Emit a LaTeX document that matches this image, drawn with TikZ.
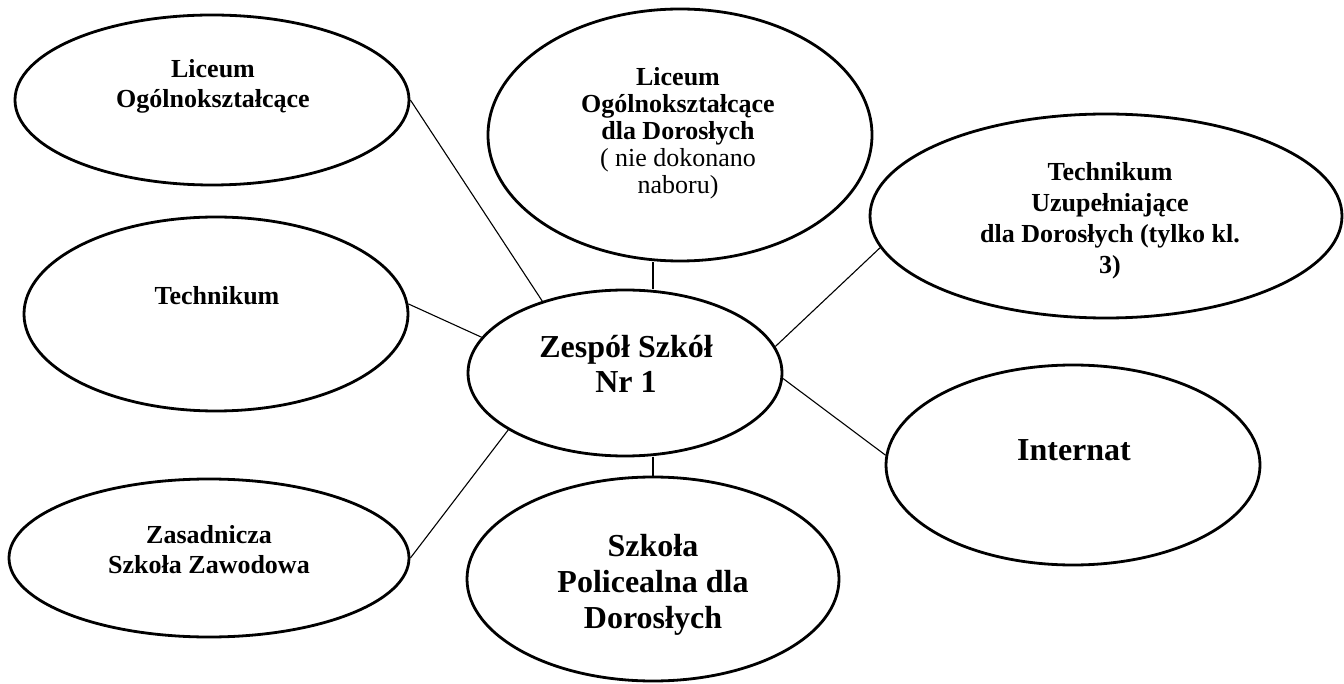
\documentclass[tikz,border=0pt]{standalone}
\usepackage{fontspec}
\setmainfont{Liberation Serif}
\usetikzlibrary{shapes.geometric,positioning}

\begin{document}
\begin{tikzpicture}[x=1pt,y=-1pt,
  szkola/.style 2 args={ellipse,draw,line width=2.8pt,minimum width=#1,minimum height=#2,inner sep=0pt},
  opis/.style={align=center,font=\fontsize{26}{#1}\selectfont\bfseries},
  opis/.default=30,
  duzy/.style={align=center,font=\fontsize{32}{#1}\selectfont\bfseries},
  duzy/.default=35,
  polacz/.style={line width=1.1pt}]
  \useasboundingbox (0,0) rectangle (1344,684);
  % ellipses
  \node[szkola={394pt}{170pt}] (LO) at (212,100) {};
  \node[szkola={384pt}{252pt}] (LOD) at (680,135) {};
  \node[szkola={472pt}{204pt}] (TU) at (1106,216) {};
  \node[szkola={384pt}{194pt}] (T) at (216,314) {};
  \node[szkola={314pt}{166pt}] (ZS) at (625,373) {};
  \node[szkola={374pt}{200pt}] (I) at (1073,465) {};
  \node[szkola={400pt}{158pt}] (ZSZ) at (209,558) {};
  \node[szkola={372pt}{204pt}] (SP) at (653,579) {};
  % texts
  \node[opis] (LOt) at (213,86) {Liceum\\Ogólnokształcące};
  \node[opis=27] (LODt) at (678,133) {Liceum\\Ogólnokształcące\\dla Dorosłych\\{\mdseries ( nie dokonano}\\{\mdseries naboru)}};
  \node[opis=31] (TUt) at (1110,221) {Technikum\\Uzupełniające\\dla Dorosłych (tylko kl.\\3)};
  \node[opis] (Tt) at (217,296) {Technikum};
  \node[duzy] (ZSt) at (626,364) {Zespół Szkół\\Nr 1};
  \node[duzy] (It) at (1074,450) {Internat};
  \node[opis] (ZSZt) at (209,550) {Zasadnicza\\Szkoła Zawodowa};
  \node[duzy=36] (SPt) at (653,585) {Szkoła\\Policealna dla\\Dorosłych};
  % connectors
  \draw[polacz] (LO.east) -- (ZS.139);
  \draw[polacz] (T.3) -- (ZS.166);
  \draw[polacz] (ZSZ.east) -- (ZS.206);
  \draw[polacz] (ZS.10) -- (TU.188);
  \draw[polacz] (ZS.-2) -- (I.177);
  \draw[polacz] (SP.north |- LOD.south) -- (SP.north |- ZS.north);
  \draw[polacz] (SP.north |- ZS.south) -- (SP.north);
\end{tikzpicture}
\end{document}
